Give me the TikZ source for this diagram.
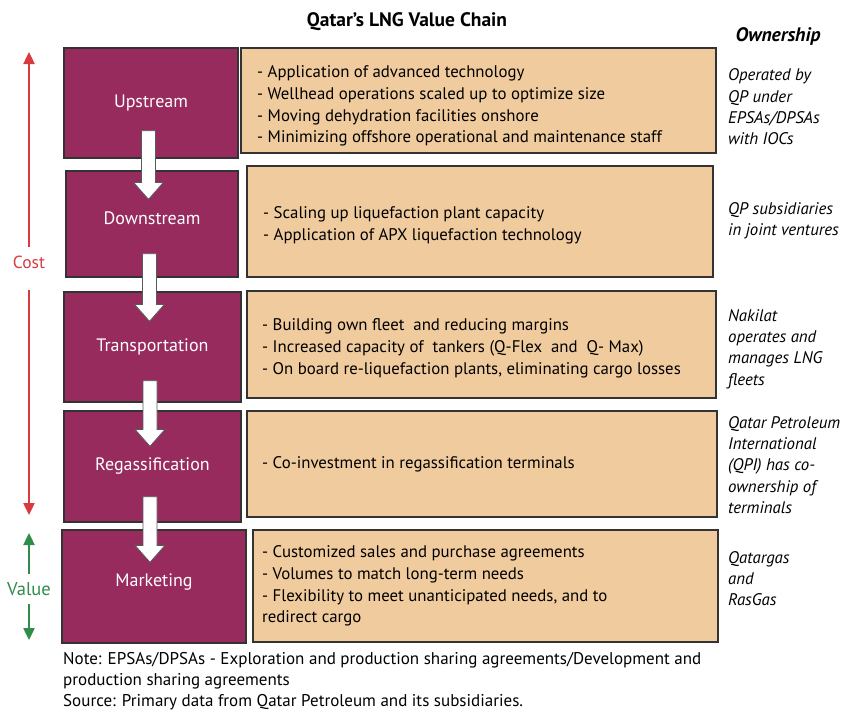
\documentclass[tikz,border=0pt]{standalone}
\usepackage{fontspec}
\setmainfont{PT Sans}
\usetikzlibrary{arrows.meta,calc}

\definecolor{chainpurple}{RGB}{152,43,94}
\definecolor{chaintan}{RGB}{240,203,157}
\definecolor{costred}{RGB}{217,58,63}
\definecolor{valuegreen}{RGB}{47,140,75}

\tikzset{
  stage/.style={draw=black!80,line width=1.3pt,fill=chainpurple,text=white,
    font=\fontsize{18}{20}\selectfont,inner sep=0pt},
  detail/.style={draw=black!80,line width=1.3pt,fill=chaintan,inner sep=0pt},
  desc/.style={anchor=west,align=left,inner sep=0pt,
    font=\fontsize{16.8}{21.8}\selectfont},
  owner/.style={anchor=west,align=left,inner sep=0pt,
    font=\fontsize{16.8}{21.3}\selectfont\itshape},
  blockarrow/.style={fill=white,draw=black!65,line width=0.8pt,line join=miter},
  scale arrow/.style={line width=2.4pt,-{Triangle[width=11pt,length=12pt]}}
}

\begin{document}
\begin{tikzpicture}[x=1pt,y=-1pt]
\useasboundingbox (0,0) rectangle (844,713);

% title
\node[font=\fontsize{19.5}{22}\selectfont\bfseries] (title) at (407,22) {Qatar's LNG Value Chain};
\node[font=\fontsize{19.5}{22}\selectfont\bfseries\itshape] (ownhead) at (778,36) {Ownership};

% stages of the chain
\node[stage,minimum width=174,minimum height=110] (up) at (151,103) {\raisebox{-13pt}{Upstream}};
\node[stage,minimum width=172,minimum height=106] (down) at (152,224) {\raisebox{11pt}{Downstream}};
\node[stage,minimum width=177,minimum height=110] (trans) at (152.5,347) {\raisebox{4pt}{Transportation}};
\node[stage,minimum width=177,minimum height=111] (regas) at (152.5,466.5) {Regassification};
\node[stage,minimum width=184,minimum height=113] (mkt) at (154,586.5) {\raisebox{13pt}{Marketing}};

% detail boxes
\node[detail,minimum width=475,minimum height=105] (upbox) at (478.5,100.5) {};
\node[detail,minimum width=466,minimum height=111] (downbox) at (480,221.5) {};
\node[detail,minimum width=469,minimum height=107] (transbox) at (481.5,344.5) {};
\node[detail,minimum width=470,minimum height=106] (regasbox) at (482,464) {};
\node[detail,minimum width=465,minimum height=112] (mktbox) at (485.5,586) {};

\node[desc] (uptext) at (257,106) {- Application of advanced technology\\
- Wellhead operations scaled up to optimize size\\
- Moving dehydration facilities onshore\\
- Minimizing offshore operational and maintenance staff};
\node[desc] (downtext) at (263,225) {- Scaling up liquefaction plant capacity\\
- Application of APX liquefaction technology};
\node[desc] (transtext) at (262,348.5) {- Building own fleet\ \ and reducing margins\\
- Increased capacity of\ \ tankers (Q-Flex\ \ and\ \ Q- Max)\\
- On board re-liquefaction plants, eliminating cargo losses};
\node[desc] (regastext) at (262,464) {- Co-investment in regassification terminals};
\node[desc] (mkttext) at (262,586) {- Customized sales and purchase agreements\\
- Volumes to match long-term needs\\
- Flexibility to meet unanticipated needs, and to\\
redirect cargo};

% ownership
\node[owner] (upown) at (728,107) {Operated by\\QP under\\EPSAs/DPSAs\\with IOCs};
\node[owner] (downown) at (728,220.5) {QP subsidiaries\\in joint ventures};
\node[owner] (transown) at (728,349) {Nakilat\\operates and\\manages LNG\\fleets};
\node[owner] (regasown) at (728,465) {Qatar Petroleum\\International\\(QPI) has co-\\ownership of\\terminals};
\node[owner] (mktown) at (728,578.5) {Qatargas\\and\\RasGas};

% flow arrows between stages
\foreach \a/\b/\s/\t in {up/down/28/29,down/trans/24/30,trans/regas/22/36,regas/mkt/26/33}{
  \coordinate (top) at ($(\a.south)+(0,-\s)$);
  \coordinate (tip) at ($(\b.north)+(0,\t)$);
  \draw[blockarrow] ($(top)+(-9.5,0)$) -- ($(tip -| top)+(-9.5,-17)$)
    -- ($(tip -| top)+(-17.5,-17)$) -- ($(tip -| top)+(-2.5,0)$)
    -- ($(tip -| top)+(12.5,-17)$) -- ($(tip -| top)+(4.5,-17)$)
    -- ($(top)+(4.5,0)$) -- cycle;
}

% cost and value scale
\node[text=costred,font=\fontsize{17.5}{20}\selectfont,minimum height=30,inner sep=0pt] (cost) at (29,262) {Cost};
\coordinate (costtop) at (29,52);
\coordinate (costbot) at (29,515);
\draw[scale arrow,costred] (cost.north) -- (costtop);
\draw[scale arrow,costred,shorten <=13pt] (cost.south) -- (costbot);

\node[text=valuegreen,font=\fontsize{18.5}{20}\selectfont,minimum height=30,inner sep=0pt] (value) at (29,589) {Value};
\coordinate (valtop) at (29,533);
\coordinate (valbot) at (29,640);
\draw[scale arrow,valuegreen] (value.north) -- (valtop);
\draw[scale arrow,valuegreen] (value.south) -- (valbot);

% notes
\node[anchor=west,align=left,inner sep=0pt,font=\fontsize{17}{21}\selectfont] (notes) at (63,681) {Note: EPSAs/DPSAs - Exploration and production sharing agreements/Development and\\
production sharing agreements\\
Source: Primary data from Qatar Petroleum and its subsidiaries.};
\end{tikzpicture}
\end{document}
